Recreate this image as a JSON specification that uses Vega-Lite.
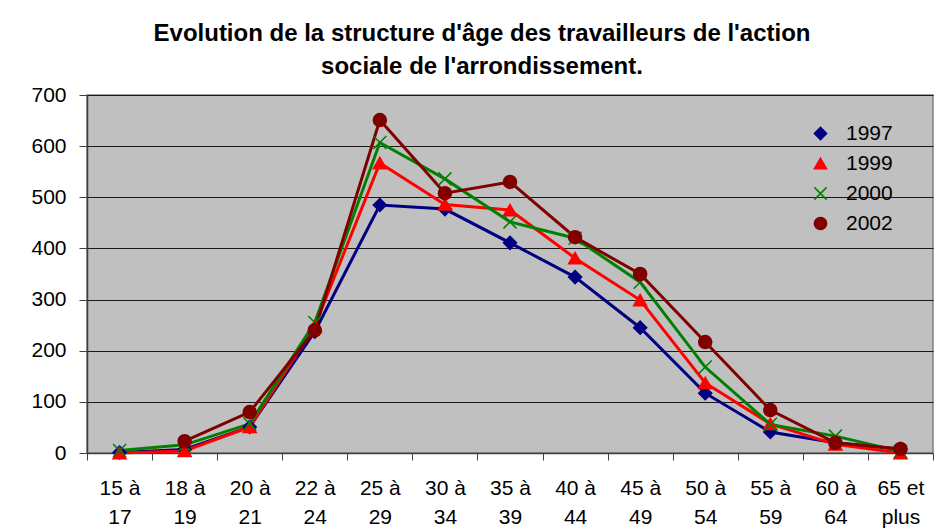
{
  "$schema": "https://vega.github.io/schema/vega-lite/v6.json",
  "width": 846,
  "height": 358,
  "autosize": {"type": "none"},
  "padding": {"left": 87, "top": 95, "right": 8, "bottom": 77},
  "background": "white",
  "title": {
    "text": ["Evolution de la structure d'âge des travailleurs de l'action", "sociale de l'arrondissement."],
    "font": "Liberation Sans",
    "fontSize": 24,
    "fontWeight": "bold",
    "color": "black",
    "lineHeight": 33,
    "anchor": "middle",
    "dx": -28,
    "offset": 5
  },
  "data": {
    "values": [
      {"age": "15 à 17", "annee": "1997", "n": 1},
      {"age": "18 à 19", "annee": "1997", "n": 7},
      {"age": "20 à 21", "annee": "1997", "n": 51},
      {"age": "22 à 24", "annee": "1997", "n": 237},
      {"age": "25 à 29", "annee": "1997", "n": 485},
      {"age": "30 à 34", "annee": "1997", "n": 477},
      {"age": "35 à 39", "annee": "1997", "n": 411},
      {"age": "40 à 44", "annee": "1997", "n": 344},
      {"age": "45 à 49", "annee": "1997", "n": 245},
      {"age": "50 à 54", "annee": "1997", "n": 117},
      {"age": "55 à 59", "annee": "1997", "n": 41},
      {"age": "60 à 64", "annee": "1997", "n": 20},
      {"age": "65 et plus", "annee": "1997", "n": 8},
      {"age": "15 à 17", "annee": "1999", "n": 0},
      {"age": "18 à 19", "annee": "1999", "n": 4},
      {"age": "20 à 21", "annee": "1999", "n": 51},
      {"age": "22 à 24", "annee": "1999", "n": 248},
      {"age": "25 à 29", "annee": "1999", "n": 567},
      {"age": "30 à 34", "annee": "1999", "n": 486},
      {"age": "35 à 39", "annee": "1999", "n": 475},
      {"age": "40 à 44", "annee": "1999", "n": 381},
      {"age": "45 à 49", "annee": "1999", "n": 299},
      {"age": "50 à 54", "annee": "1999", "n": 137},
      {"age": "55 à 59", "annee": "1999", "n": 57},
      {"age": "60 à 64", "annee": "1999", "n": 17},
      {"age": "65 et plus", "annee": "1999", "n": 0},
      {"age": "15 à 17", "annee": "2000", "n": 5},
      {"age": "18 à 19", "annee": "2000", "n": 16},
      {"age": "20 à 21", "annee": "2000", "n": 57},
      {"age": "22 à 24", "annee": "2000", "n": 255},
      {"age": "25 à 29", "annee": "2000", "n": 607},
      {"age": "30 à 34", "annee": "2000", "n": 536},
      {"age": "35 à 39", "annee": "2000", "n": 452},
      {"age": "40 à 44", "annee": "2000", "n": 420},
      {"age": "45 à 49", "annee": "2000", "n": 334},
      {"age": "50 à 54", "annee": "2000", "n": 168},
      {"age": "55 à 59", "annee": "2000", "n": 56},
      {"age": "60 à 64", "annee": "2000", "n": 33},
      {"age": "65 et plus", "annee": "2000", "n": 3},
      {"age": "18 à 19", "annee": "2002", "n": 23},
      {"age": "20 à 21", "annee": "2002", "n": 80},
      {"age": "22 à 24", "annee": "2002", "n": 240},
      {"age": "25 à 29", "annee": "2002", "n": 651},
      {"age": "30 à 34", "annee": "2002", "n": 508},
      {"age": "35 à 39", "annee": "2002", "n": 530},
      {"age": "40 à 44", "annee": "2002", "n": 422},
      {"age": "45 à 49", "annee": "2002", "n": 350},
      {"age": "50 à 54", "annee": "2002", "n": 217},
      {"age": "55 à 59", "annee": "2002", "n": 84},
      {"age": "60 à 64", "annee": "2002", "n": 20},
      {"age": "65 et plus", "annee": "2002", "n": 8}
    ]
  },
  "encoding": {
    "x": {
      "field": "age",
      "type": "nominal",
      "sort": null,
      "scale": {"type": "band", "paddingInner": 0, "paddingOuter": 0},
      "axis": {
        "title": null,
        "labelAngle": 0,
        "labelFont": "Liberation Sans",
        "labelFontSize": 21,
        "labelColor": "black",
        "labelLineHeight": 29,
        "labelPadding": 17,
        "labelExpr": "datum.label == '65 et plus' ? ['65 et', 'plus'] : [slice(datum.label, 0, 4), slice(datum.label, 5)]",
        "tickBand": "extent",
        "tickSize": 7,
        "tickColor": "#404040",
        "domainColor": "#404040",
        "domainWidth": 1.5,
        "grid": false
      }
    },
    "y": {
      "field": "n",
      "type": "quantitative",
      "scale": {"domain": [0, 700], "nice": false},
      "axis": {
        "title": null,
        "values": [0, 100, 200, 300, 400, 500, 600, 700],
        "labelFont": "Liberation Sans",
        "labelFontSize": 21,
        "labelColor": "black",
        "labelPadding": 13,
        "tickSize": 8,
        "tickColor": "#404040",
        "domainColor": "#404040",
        "domainWidth": 1.5,
        "grid": true,
        "gridColor": "#1a1a1a",
        "gridWidth": 1
      }
    }
  },
  "resolve": {"legend": {"color": "shared", "shape": "shared", "stroke": "shared"}},
  "layer": [
    {
      "mark": {"type": "line", "strokeWidth": 3},
      "encoding": {
        "color": {
          "field": "annee",
          "type": "nominal",
          "scale": {"domain": ["1997", "1999", "2000", "2002"], "range": ["#000080", "#FF0000", "#008000", "#800000"]}
        }
      }
    },
    {
      "mark": {"type": "point", "filled": true, "size": 170, "strokeWidth": 1.5, "opacity": 1},
      "encoding": {
        "color": {
          "field": "annee",
          "type": "nominal",
          "scale": {"domain": ["1997", "1999", "2000", "2002"], "range": ["#000080", "#FF0000", "#008000", "#800000"]},
          "legend": {
            "title": null,
            "orient": "none",
            "legendX": 723,
            "legendY": 28,
            "labelFont": "Liberation Sans",
            "labelFontSize": 21,
            "labelColor": "black",
            "rowPadding": 8,
            "symbolSize": 150,
            "labelOffset": 15
          }
        },
        "stroke": {
          "field": "annee",
          "type": "nominal",
          "scale": {"domain": ["1997", "1999", "2000", "2002"], "range": ["#000080", "#FF0000", "#008000", "#800000"]}
        },
        "shape": {
          "field": "annee",
          "type": "nominal",
          "scale": {"domain": ["1997", "1999", "2000", "2002"], "range": ["diamond", "triangle-up", "M-1,-1L1,1M1,-1L-1,1", "circle"]}
        }
      }
    }
  ],
  "config": {
    "view": {"fill": "#C0C0C0", "stroke": "#808080", "strokeWidth": 1.5},
    "font": "Liberation Sans"
  }
}
